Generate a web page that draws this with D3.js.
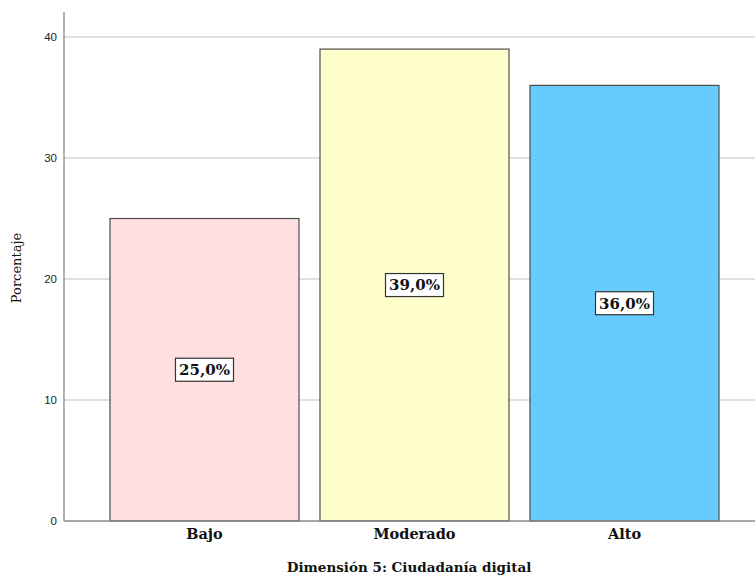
<!DOCTYPE html>
<html><head><meta charset="utf-8">
<script src="https://cdn.jsdelivr.net/npm/d3@7"></script>
<style>body{margin:0;background:#fff}svg{display:block}</style>
</head><body>
<svg id="c" width="755" height="578"></svg>
<script>
const categories = ["Bajo", "Moderado", "Alto"];
const values = [25.0, 39.0, 36.0];
const labels = ["25,0%", "39,0%", "36,0%"];
const colors = ["#ffdfdf", "#ffffcc", "#66ccff"];
const yTicks = [0, 10, 20, 30, 40];
const serif = "'DejaVu Serif', 'Liberation Serif', serif";

const svg = d3.select("#c");
const y = d3.scaleLinear().domain([0, 40]).range([521, 37]);
const x = d3.scaleBand().domain(categories).range([89, 740]).paddingInner(0.1).paddingOuter(0.1);

// gridlines
svg.append("g").selectAll("line").data(yTicks.filter(d => d > 0)).join("line")
  .attr("x1", 64).attr("x2", 755)
  .attr("y1", d => y(d)).attr("y2", d => y(d))
  .attr("stroke", "#d6d6d6").attr("stroke-width", 1.5);

// bars
svg.append("g").selectAll("rect").data(categories).join("rect")
  .attr("x", d => x(d)).attr("width", x.bandwidth())
  .attr("y", (d, i) => y(values[i])).attr("height", (d, i) => y(0) - y(values[i]))
  .attr("fill", (d, i) => colors[i]).attr("stroke", "#4d4d4d").attr("stroke-width", 1.2);

// y axis
const yAxis = d3.axisLeft(y).tickValues(yTicks).tickSize(0).tickPadding(7);
const ya = svg.append("g").attr("transform", "translate(64,0)").call(yAxis);
ya.select(".domain").remove();
ya.selectAll("text").attr("font-family", "Arial, 'Liberation Sans', sans-serif").attr("font-size", 11.5).attr("fill", "#222");
svg.append("line").attr("x1", 64).attr("x2", 64).attr("y1", 12).attr("y2", 521).attr("stroke", "#888").attr("stroke-width", 1.3);
svg.append("line").attr("x1", 64).attr("x2", 755).attr("y1", 521).attr("y2", 521).attr("stroke", "#888").attr("stroke-width", 1.3);

// x axis labels
const xAxis = d3.axisBottom(x).tickSize(0).tickPadding(8);
const xa = svg.append("g").attr("transform", "translate(0,521)").call(xAxis);
xa.select(".domain").remove();
xa.selectAll("text").attr("font-family", serif).attr("font-weight", "bold").attr("font-size", 14.5).attr("fill", "#111");

// data labels
const lg = svg.append("g").selectAll("g").data(categories).join("g")
  .attr("transform", (d, i) => `translate(${x(d) + x.bandwidth() / 2},${y(values[i] / 2)})`);
lg.append("rect").attr("x", -29).attr("y", -11.5).attr("width", 58).attr("height", 23)
  .attr("fill", "#fff").attr("stroke", "#333").attr("stroke-width", 1.2);
lg.append("text").attr("text-anchor", "middle").attr("dy", "0.36em")
  .attr("font-family", serif).attr("font-weight", "bold").attr("font-size", 15).attr("fill", "#111")
  .text((d, i) => labels[i]);

// axis titles
svg.append("text").attr("x", 409).attr("y", 572).attr("text-anchor", "middle")
  .attr("font-family", serif).attr("font-weight", "bold").attr("font-size", 13.5).attr("fill", "#111")
  .text("Dimensión 5: Ciudadanía digital");
svg.append("text").attr("transform", "translate(21,268) rotate(-90)").attr("text-anchor", "middle")
  .attr("font-family", serif).attr("font-size", 13).attr("fill", "#111")
  .text("Porcentaje");
</script>
</body></html>
